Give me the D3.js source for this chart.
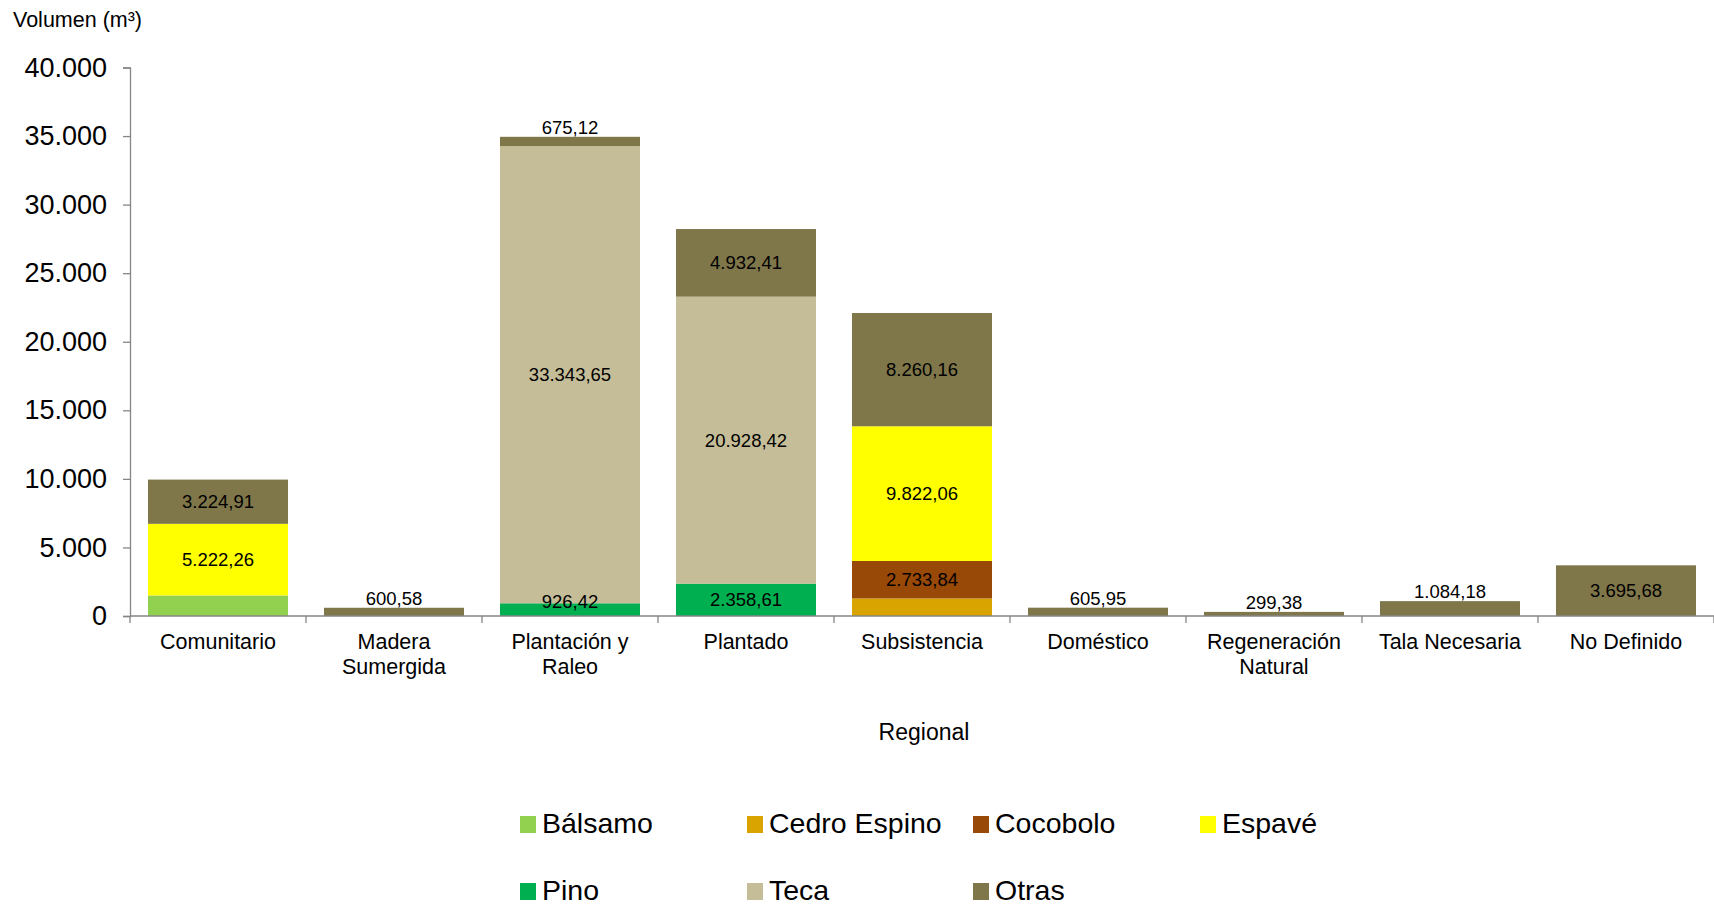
<!DOCTYPE html>
<html lang="es">
<head>
  <meta charset="UTF-8" />
  <title>Volumen por tipo de permiso</title>
  <script src="https://cdn.jsdelivr.net/npm/d3@7"></script>
  <style>
    body { margin: 0; background: #fff; }
    text { font-family: "Liberation Sans", Arial, sans-serif; fill: #000; }
  </style>
</head>
<body>
<svg id="svg"></svg>
<script>
  const categories = ["Comunitario", "Madera\nSumergida", "Plantación y\nRaleo", "Plantado",
    "Subsistencia", "Doméstico", "Regeneración\nNatural", "Tala Necesaria", "No Definido"];

  const balsamo = [1500, 0, 0, 0, 0, 0, 0, 0, 0];
  const cedroEspino = [0, 0, 0, 0, 1280, 0, 0, 0, 0];
  const cocobolo = [0, 0, 0, 0, 2733.84, 0, 0, 0, 0];
  const espave = [5222.26, 0, 0, 0, 9822.06, 0, 0, 0, 0];
  const pino = [0, 0, 926.42, 2358.61, 0, 0, 0, 0, 0];
  const teca = [0, 0, 33343.65, 20928.42, 0, 0, 0, 0, 0];
  const otras = [3224.91, 600.58, 675.12, 4932.41, 8260.16, 605.95, 299.38, 1084.18, 3695.68];

  const seriesNames = ["Bálsamo", "Cedro Espino", "Cocobolo", "Espavé", "Pino", "Teca", "Otras"];
  const seriesValues = [balsamo, cedroEspino, cocobolo, espave, pino, teca, otras];
  const seriesColors = ["#92D050", "#D9A400", "#984807", "#FFFF00", "#00B050", "#C4BD97", "#7F7649"];
  const labeledSeries = ["Cocobolo", "Espavé", "Pino", "Teca", "Otras"];
  const yTicks = [0, 5000, 10000, 15000, 20000, 25000, 30000, 35000, 40000];

  const width = 1714, height = 907;
  const plotLeft = 130, plotRight = 1714, plotTop = 67.5, plotBottom = 616;

  const es = d3.formatLocale({ decimal: ",", thousands: ".", grouping: [3], currency: ["", ""] });
  const fmtVal = es.format(",.2f");
  const fmtTick = es.format(",");

  const svg = d3.select("#svg").attr("width", width).attr("height", height);

  // tabla para d3.stack
  const table = categories.map((c, i) => {
    const row = { cat: c };
    seriesNames.forEach((s, k) => { row[s] = seriesValues[k][i]; });
    return row;
  });
  const stacked = d3.stack().keys(seriesNames)(table);

  const x = d3.scaleBand().domain(categories).range([plotLeft, plotRight])
    .paddingInner(0.2045).paddingOuter(0.1023);
  const y = d3.scaleLinear().domain([0, 40000]).range([plotBottom, plotTop]);
  const color = d3.scaleOrdinal().domain(seriesNames).range(seriesColors);

  // barras
  const layers = svg.append("g").selectAll("g").data(stacked).join("g")
    .attr("fill", d => color(d.key));
  layers.selectAll("rect").data(d => d.filter(p => p[1] - p[0] > 0)).join("rect")
    .attr("x", d => x(d.data.cat))
    .attr("width", x.bandwidth())
    .attr("y", d => y(d[1]))
    .attr("height", d => y(d[0]) - y(d[1]));

  // etiquetas de datos
  const lab = svg.append("g").attr("font-size", 18.5).attr("text-anchor", "middle");
  stacked.forEach(layer => {
    if (!labeledSeries.includes(layer.key)) return;
    layer.forEach(p => {
      const v = p[1] - p[0];
      if (v <= 0) return;
      const h = y(p[0]) - y(p[1]);
      const cx = x(p.data.cat) + x.bandwidth() / 2;
      let ty;
      if (layer.key === "Otras" && h < 20) {
        ty = y(p[1]) - 3;
      } else {
        const mid = Math.min((y(p[0]) + y(p[1])) / 2, plotBottom - 15);
        ty = mid + 6.5;
      }
      lab.append("text").attr("x", cx).attr("y", ty).text(fmtVal(v));
    });
  });

  // eje Y
  const yAxis = svg.append("g").attr("transform", `translate(${plotLeft},0)`)
    .call(d3.axisLeft(y).tickValues(yTicks).tickFormat(fmtTick).tickSize(7).tickPadding(16));
  yAxis.selectAll("path, line").attr("stroke", "#868686").attr("stroke-width", 1.3);
  yAxis.selectAll("text").attr("font-size", 27).attr("font-family", "Liberation Sans, Arial, sans-serif")
    .attr("fill", "#000");

  // eje X
  const step = x.step();
  const bounds = d3.range(categories.length + 1).map(i => plotLeft + i * step);
  const xg = svg.append("g");
  xg.append("line").attr("x1", plotLeft).attr("x2", plotRight).attr("y1", plotBottom).attr("y2", plotBottom)
    .attr("stroke", "#868686").attr("stroke-width", 1.5);
  xg.selectAll("line.tk").data(bounds).join("line").attr("class", "tk")
    .attr("x1", d => d).attr("x2", d => d).attr("y1", plotBottom).attr("y2", plotBottom + 7)
    .attr("stroke", "#868686").attr("stroke-width", 1.3);
  xg.selectAll("text").data(categories).join("text")
    .attr("text-anchor", "middle").attr("font-size", 21.5)
    .attr("x", d => x(d) + x.bandwidth() / 2)
    .attr("y", 649)
    .each(function (d) {
      const t = d3.select(this);
      d.split("\n").forEach((line, i) => {
        t.append("tspan").attr("x", x(d) + x.bandwidth() / 2).attr("dy", i === 0 ? 0 : 24.5).text(line);
      });
    });

  // títulos
  svg.append("text").attr("x", 13).attr("y", 27).attr("font-size", 21.5).text("Volumen (m³)");
  svg.append("text").attr("x", 924).attr("y", 740).attr("text-anchor", "middle")
    .attr("font-size", 23).text("Regional");

  // leyenda
  const legCols = [520, 747, 973, 1200];
  const legRows = [833, 900];
  const leg = svg.append("g");
  seriesNames.forEach((s, i) => {
    const lx = legCols[i % 4], ly = legRows[Math.floor(i / 4)];
    leg.append("rect").attr("x", lx).attr("y", ly - 17).attr("width", 16).attr("height", 17)
      .attr("fill", color(s));
    leg.append("text").attr("x", lx + 22).attr("y", ly).attr("font-size", 28.5).text(s);
  });
</script>
</body>
</html>
